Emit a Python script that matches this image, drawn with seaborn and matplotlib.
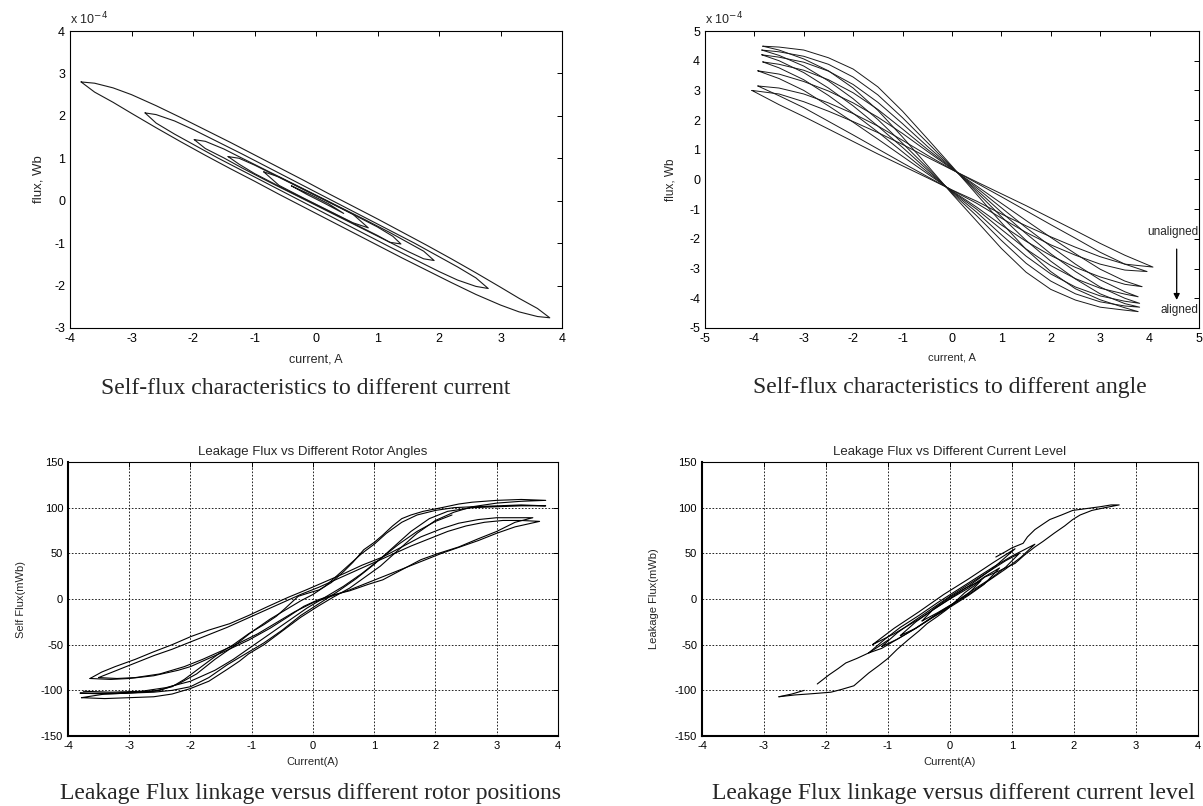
import numpy as np
import pandas as pd
import matplotlib
matplotlib.use("Agg")
import matplotlib.pyplot as plt
from matplotlib.ticker import FuncFormatter
import seaborn as sns

sns.set_theme(style="white")
plt.rcParams['font.family'] = ['Liberation Sans', 'DejaVu Sans']
plt.rcParams['axes.unicode_minus'] = False

FLUX_SCALE = 1e-4  # top panels are in Wb, values typed in units of 1e-4

# ---------------- top-left: self-flux vs different current (units 1e-4 Wb) -------------
tl_loop1 = [(-3.82, 2.80), (-3.6, 2.77), (-3.3, 2.66), (-3.0, 2.50), (-2.6, 2.24), (-2.2, 1.96),
            (-1.8, 1.67), (-1.4, 1.38), (-1.0, 1.08), (-0.6, 0.78), (-0.2, 0.48), (0.2, 0.17),
            (0.6, -0.13), (1.0, -0.43), (1.4, -0.74), (1.8, -1.05), (2.2, -1.37), (2.6, -1.70),
            (3.0, -2.04), (3.3, -2.30), (3.6, -2.54), (3.80, -2.76),
            (3.6, -2.73), (3.3, -2.62), (3.0, -2.46), (2.6, -2.21), (2.2, -1.93), (1.8, -1.64),
            (1.4, -1.35), (1.0, -1.05), (0.6, -0.75), (0.2, -0.45), (-0.2, -0.15), (-0.6, 0.15),
            (-1.0, 0.46), (-1.4, 0.76), (-1.8, 1.07), (-2.2, 1.39), (-2.6, 1.72), (-3.0, 2.06),
            (-3.3, 2.32), (-3.6, 2.56), (-3.82, 2.80)]
tl_loop2 = [(-2.78, 2.07), (-2.6, 2.03), (-2.3, 1.88), (-2.0, 1.68), (-1.6, 1.39), (-1.2, 1.10),
            (-0.8, 0.80), (-0.4, 0.50), (0.0, 0.20), (0.4, -0.10), (0.8, -0.40), (1.2, -0.70),
            (1.6, -1.00), (2.0, -1.32), (2.3, -1.56), (2.6, -1.82), (2.80, -2.07),
            (2.6, -2.02), (2.3, -1.87), (2.0, -1.67), (1.6, -1.38), (1.2, -1.09), (0.8, -0.79),
            (0.4, -0.49), (0.0, -0.19), (-0.4, 0.11), (-0.8, 0.41), (-1.2, 0.71), (-1.6, 1.01),
            (-2.0, 1.33), (-2.3, 1.57), (-2.6, 1.83), (-2.78, 2.07)]
tl_loop3 = [(-1.98, 1.44), (-1.8, 1.40), (-1.5, 1.22), (-1.2, 1.00), (-0.8, 0.71), (-0.4, 0.42),
            (0.0, 0.13), (0.4, -0.16), (0.8, -0.45), (1.2, -0.75), (1.5, -0.99), (1.75, -1.19),
            (1.92, -1.41),
            (1.75, -1.37), (1.5, -1.20), (1.2, -0.98), (0.8, -0.69), (0.4, -0.40), (0.0, -0.11),
            (-0.4, 0.18), (-0.8, 0.47), (-1.2, 0.77), (-1.5, 1.01), (-1.8, 1.23), (-1.98, 1.44)]
tl_loop4 = [(-1.43, 1.04), (-1.25, 1.00), (-1.0, 0.84), (-0.6, 0.55), (-0.2, 0.26), (0.2, -0.03),
            (0.6, -0.32), (1.0, -0.62), (1.25, -0.84), (1.38, -1.02),
            (1.2, -0.98), (1.0, -0.82), (0.6, -0.53), (0.2, -0.24), (-0.2, 0.05), (-0.6, 0.34),
            (-1.0, 0.64), (-1.25, 0.86), (-1.43, 1.04)]
tl_loop5 = [(-0.85, 0.68), (-0.6, 0.56), (-0.2, 0.27), (0.2, -0.02), (0.6, -0.32), (0.85, -0.64),
            (0.6, -0.52), (0.2, -0.23), (-0.2, 0.06), (-0.6, 0.36), (-0.85, 0.68)]
tl_loop6 = [(-0.4, 0.35), (-0.1, 0.15), (0.2, -0.07), (0.45, -0.30),
            (0.15, -0.07), (-0.15, 0.15), (-0.4, 0.35)]

# ---------------- top-right: self-flux vs different angle (units 1e-4 Wb) --------------
tr_grid = [-3.5, -3.0, -2.5, -2.0, -1.5, -1.0, -0.5, 0.0, 0.5, 1.0, 1.5, 2.0, 2.5, 3.0, 3.5]
tr_tip_left = [(-4.05, 3.00), (-3.93, 3.15), (-3.93, 3.66), (-3.83, 3.96), (-3.85, 4.20),
               (-3.85, 4.36), (-3.83, 4.49)]
tr_tip_right = [(4.07, -2.95), (3.95, -3.10), (3.85, -3.61), (3.77, -3.95), (3.80, -4.17),
                (3.80, -4.30), (3.77, -4.45)]
tr_upper_1 = [2.88, 2.62, 2.30, 1.95, 1.58, 1.18, 0.75, 0.33, -0.08, -0.48, -0.88, -1.30, -1.72, -2.15, -2.55]
tr_lower_1 = [2.52, 2.12, 1.70, 1.28, 0.86, 0.46, 0.06, -0.35, -0.73, -1.16, -1.56, -1.93, -2.28, -2.60, -2.85]
tr_upper_2 = [3.08, 2.88, 2.58, 2.22, 1.80, 1.32, 0.82, 0.34, -0.12, -0.58, -1.05, -1.52, -1.98, -2.45, -2.85]
tr_lower_2 = [2.82, 2.42, 1.96, 1.50, 1.03, 0.56, 0.10, -0.36, -0.80, -1.30, -1.78, -2.20, -2.55, -2.85, -3.05]
tr_upper_3 = [3.55, 3.30, 2.98, 2.58, 2.10, 1.55, 0.95, 0.36, -0.22, -0.80, -1.38, -1.95, -2.50, -3.02, -3.42]
tr_lower_3 = [3.40, 3.00, 2.48, 1.93, 1.36, 0.78, 0.20, -0.38, -0.93, -1.53, -2.08, -2.56, -2.96, -3.28, -3.53]
tr_upper_4 = [3.88, 3.68, 3.36, 2.92, 2.36, 1.70, 1.02, 0.38, -0.28, -0.95, -1.62, -2.25, -2.85, -3.38, -3.78]
tr_lower_4 = [3.76, 3.36, 2.83, 2.23, 1.60, 0.93, 0.26, -0.40, -1.00, -1.68, -2.34, -2.90, -3.34, -3.66, -3.86]
tr_upper_5 = [4.12, 3.95, 3.65, 3.20, 2.60, 1.88, 1.12, 0.40, -0.35, -1.10, -1.82, -2.50, -3.10, -3.62, -4.00]
tr_lower_5 = [4.00, 3.60, 3.08, 2.48, 1.80, 1.08, 0.33, -0.42, -1.10, -1.86, -2.58, -3.18, -3.62, -3.92, -4.10]
tr_upper_6 = [4.30, 4.15, 3.88, 3.45, 2.85, 2.08, 1.25, 0.42, -0.42, -1.25, -2.05, -2.75, -3.35, -3.85, -4.18]
tr_lower_6 = [4.18, 3.82, 3.32, 2.72, 2.02, 1.22, 0.40, -0.45, -1.22, -2.05, -2.82, -3.42, -3.85, -4.12, -4.26]
tr_upper_7 = [4.46, 4.36, 4.10, 3.72, 3.12, 2.30, 1.38, 0.45, -0.50, -1.45, -2.35, -3.10, -3.68, -4.05, -4.32]
tr_lower_7 = [4.36, 4.06, 3.66, 3.08, 2.33, 1.43, 0.48, -0.48, -1.40, -2.32, -3.12, -3.70, -4.06, -4.30, -4.40]
tr_uppers = [tr_upper_1, tr_upper_2, tr_upper_3, tr_upper_4, tr_upper_5, tr_upper_6, tr_upper_7]
tr_lowers = [tr_lower_1, tr_lower_2, tr_lower_3, tr_lower_4, tr_lower_5, tr_lower_6, tr_lower_7]

# ---------------- bottom-left: leakage flux vs rotor angle (mWb) ------------------------
bl_loop1 = [(-3.78, -108), (-3.4, -109), (-3.0, -108), (-2.6, -107), (-2.3, -104), (-2.0, -98),
            (-1.7, -90), (-1.4, -77), (-1.2, -68), (-1.05, -60), (-0.8, -50), (-0.6, -40),
            (-0.42, -31), (-0.2, -20), (0.08, -8), (0.33, 2), (0.6, 12), (0.85, 24), (1.1, 36),
            (1.4, 54), (1.7, 72), (2.0, 86), (2.3, 95), (2.6, 101), (3.0, 105), (3.4, 107),
            (3.8, 108),
            (3.4, 109), (3.0, 108), (2.6, 106), (2.38, 104), (2.1, 100), (1.8, 96), (1.6, 92),
            (1.45, 88), (1.3, 80), (1.14, 70), (1.0, 62), (0.83, 54), (0.65, 40), (0.5, 30),
            (0.3, 18), (0.1, 10), (-0.1, 6), (-0.24, 3), (-0.45, -10), (-0.6, -19), (-0.8, -28),
            (-1.05, -38), (-1.3, -50), (-1.5, -58), (-1.68, -67), (-1.9, -78), (-2.1, -88),
            (-2.3, -96), (-2.6, -101), (-3.0, -103), (-3.4, -104), (-3.78, -108)]
bl_loop2 = [(-3.8, -103), (-3.4, -104), (-3.0, -103), (-2.6, -102), (-2.3, -100), (-2.0, -96),
            (-1.7, -86), (-1.4, -72), (-1.1, -60), (-0.8, -48), (-0.5, -34), (-0.2, -18),
            (0.1, -5), (0.4, 8), (0.7, 22), (1.0, 38), (1.3, 56), (1.6, 74), (1.9, 88),
            (2.2, 96), (2.6, 100), (3.0, 101), (3.4, 102), (3.8, 102),
            (3.4, 103), (3.0, 102), (2.6, 101), (2.3, 100), (2.0, 97), (1.7, 92), (1.45, 84),
            (1.2, 72), (1.0, 60), (0.8, 50), (0.6, 38), (0.4, 26), (0.2, 14), (0.0, 5),
            (-0.2, -2), (-0.4, -10), (-0.7, -22), (-1.0, -36), (-1.3, -52), (-1.6, -66),
            (-1.9, -82), (-2.2, -93), (-2.5, -100), (-2.9, -102), (-3.3, -103), (-3.8, -103)]
bl_loop3 = [(-3.64, -87), (-3.3, -88), (-3.0, -87), (-2.6, -84), (-2.2, -78), (-2.0, -74),
            (-1.7, -65), (-1.4, -56), (-1.05, -45), (-0.7, -32), (-0.42, -20), (-0.15, -8),
            (0.08, -1), (0.3, 4), (0.6, 9), (0.9, 16), (1.14, 21), (1.45, 32), (1.76, 43),
            (2.05, 50), (2.38, 57), (2.7, 66), (3.0, 74), (3.3, 84), (3.59, 89),
            (3.3, 89), (3.0, 89), (2.7, 87), (2.38, 83), (2.1, 77), (1.76, 68), (1.45, 57),
            (1.14, 46), (0.8, 37), (0.51, 28), (0.2, 19), (-0.11, 10), (-0.4, 2), (-0.73, -8),
            (-1.05, -18), (-1.36, -27), (-1.7, -34), (-1.99, -41), (-2.3, -50), (-2.61, -58),
            (-2.9, -66), (-3.23, -74), (-3.45, -80), (-3.64, -87)]
bl_loop4 = [(-3.5, -86), (-3.2, -87), (-2.9, -86), (-2.5, -82), (-2.1, -74), (-1.8, -66),
            (-1.5, -57), (-1.2, -48), (-0.9, -38), (-0.6, -26), (-0.3, -14), (0.0, -4),
            (0.3, 3), (0.6, 10), (0.9, 18), (1.2, 26), (1.5, 34), (1.8, 42), (2.1, 50),
            (2.4, 57), (2.7, 64), (3.0, 72), (3.3, 79), (3.7, 85),
            (3.4, 86), (3.1, 86), (2.8, 84), (2.5, 80), (2.2, 74), (1.9, 66), (1.6, 58),
            (1.3, 49), (1.0, 40), (0.7, 31), (0.4, 22), (0.1, 13), (-0.2, 5), (-0.5, -4),
            (-0.8, -13), (-1.1, -22), (-1.4, -31), (-1.7, -39), (-2.0, -47), (-2.3, -55),
            (-2.6, -62), (-2.9, -70), (-3.2, -78), (-3.5, -86)]
bl_trace5 = [(-3.75, -101), (-3.3, -102), (-2.8, -101), (-2.4, -97), (-2.0, -90), (-1.6, -78),
             (-1.3, -66), (-1.0, -52), (-0.7, -38), (-0.4, -24), (-0.1, -10), (0.2, 2),
             (0.5, 14), (0.8, 28), (1.1, 44), (1.4, 60), (1.7, 74), (2.0, 85), (2.27, 92)]

# ---------------- bottom-right: leakage flux vs current level (mWb) ---------------------
br_big_up = [(-2.76, -107), (-2.5, -105), (-2.29, -104), (-2.1, -103), (-1.92, -102),
             (-1.75, -99), (-1.55, -95), (-1.43, -88), (-1.31, -81), (-1.15, -73), (-1.0, -65),
             (-0.85, -55), (-0.68, -45), (-0.5, -35), (-0.37, -27), (-0.2, -19), (-0.06, -12),
             (0.1, -2), (0.24, 7), (0.4, 15), (0.56, 24), (0.8, 31), (1.05, 39), (1.2, 48),
             (1.37, 57), (1.5, 63), (1.68, 72), (1.85, 80), (1.98, 87), (2.1, 92), (2.29, 97),
             (2.5, 100), (2.73, 103),
             (2.6, 103), (2.42, 101), (2.2, 99), (1.98, 97), (1.8, 92), (1.61, 87), (1.5, 82),
             (1.37, 76), (1.25, 68), (1.18, 61), (1.0, 56), (0.9, 52), (0.74, 46)]
br_big_tail = [(-2.14, -93), (-1.95, -83), (-1.8, -76), (-1.68, -70), (-1.5, -65), (-1.31, -59),
               (-1.15, -52), (-1.0, -45)]
br_tip_tail = [(-2.76, -107), (-2.55, -104), (-2.35, -100)]
br_inner1 = [(-1.31, -59), (-1.1, -54), (-0.9, -46), (-0.6, -34), (-0.3, -21), (0.0, -8),
             (0.3, 5), (0.6, 19), (0.9, 33), (1.15, 46), (1.37, 60),
             (1.2, 54), (1.0, 47), (0.7, 35), (0.4, 22), (0.1, 9), (-0.2, -4), (-0.5, -18),
             (-0.8, -31), (-1.05, -44), (-1.31, -59)]
br_inner2 = [(-1.1, -52), (-0.85, -44), (-0.55, -32), (-0.25, -18), (0.05, -5), (0.35, 9),
             (0.65, 22), (0.9, 35), (1.12, 50),
             (0.9, 42), (0.6, 29), (0.3, 16), (0.0, 3), (-0.3, -11), (-0.6, -25), (-0.85, -37),
             (-1.1, -52)]
br_inner3 = [(-0.8, -40), (-0.55, -32), (-0.3, -21), (0.0, -9), (0.3, 4), (0.55, 16), (0.8, 34),
             (0.55, 24), (0.3, 12), (0.0, 0), (-0.3, -13), (-0.55, -25), (-0.8, -40)]
br_inner4 = [(-0.45, -24), (-0.2, -15), (0.05, -5), (0.3, 6), (0.5, 20),
             (0.25, 12), (0.0, 2), (-0.25, -10), (-0.45, -24)]
br_inner5 = [(-1.25, -50), (-0.9, -38), (-0.5, -22), (-0.1, -4), (0.3, 14), (0.7, 34), (1.05, 55),
             (0.7, 40), (0.3, 22), (-0.1, 5), (-0.5, -14), (-0.9, -32), (-1.25, -50)]

titles = ["Leakage Flux vs Different Rotor Angles", "Leakage Flux vs Different Current Level"]
captions = ["Self-flux characteristics to different current",
            "Self-flux characteristics to different angle",
            "Leakage Flux linkage versus different rotor positions",
            "Leakage Flux linkage versus different current level"]


def loops_frame(loops, scale=1.0):
    rows = []
    for k, pts in enumerate(loops):
        for j, (c, f) in enumerate(pts):
            rows.append((k, j, c, f * scale))
    return pd.DataFrame(rows, columns=["loop", "order", "current", "flux"])


tr_loops = []
for k in range(len(tr_uppers)):
    pts = [tr_tip_left[k]] + list(zip(tr_grid, tr_uppers[k])) + [tr_tip_right[k]]
    pts += list(zip(tr_grid[::-1], tr_lowers[k][::-1])) + [tr_tip_left[k]]
    tr_loops.append(pts)

df_tl = loops_frame([tl_loop1, tl_loop2, tl_loop3, tl_loop4, tl_loop5, tl_loop6], FLUX_SCALE)
df_tr = loops_frame(tr_loops, FLUX_SCALE)
df_bl = loops_frame([bl_loop1, bl_loop2, bl_loop3, bl_loop4, bl_trace5])
df_br = loops_frame([br_big_up, br_big_tail, br_tip_tail, br_inner1, br_inner2, br_inner3,
                     br_inner4, br_inner5])

fig = plt.figure(figsize=(12.03, 8.06), dpi=100)
ax_tl = fig.add_axes([0.0582, 0.5931, 0.4090, 0.3684])
ax_tr = fig.add_axes([0.5860, 0.5931, 0.4106, 0.3684])
ax_bl = fig.add_axes([0.0565, 0.0868, 0.4073, 0.3400])
ax_br = fig.add_axes([0.5835, 0.0868, 0.4123, 0.3400])

line_kw = dict(x="current", y="flux", units="loop", estimator=None, sort=False,
               legend=False)
sns.lineplot(data=df_tl, ax=ax_tl, color="#1a1a1a", lw=0.8, **line_kw)
sns.lineplot(data=df_tr, ax=ax_tr, color="#1a1a1a", lw=0.7, **line_kw)
sns.lineplot(data=df_bl, ax=ax_bl, color="black", lw=0.8, **line_kw)
sns.lineplot(data=df_br, ax=ax_br, color="black", lw=0.8, **line_kw)

for ax in (ax_tl, ax_tr, ax_bl, ax_br):
    for s in ax.spines.values():
        s.set_visible(True)
        s.set_color("black")
        s.set_linewidth(0.8)
    ax.tick_params(direction="in", length=3.5, width=0.7, top=True, right=True,
                   colors="black", pad=3.5)

flux_fmt = FuncFormatter(lambda v, p: "%d" % int(round(v / FLUX_SCALE)))

# top-left
ax_tl.set_xlim(-4, 4)
ax_tl.set_ylim(-3e-4, 4e-4)
ax_tl.set_xticks(np.arange(-4, 5, 1))
ax_tl.set_yticks(np.arange(-3, 5, 1) * FLUX_SCALE)
ax_tl.yaxis.set_major_formatter(flux_fmt)
ax_tl.tick_params(labelsize=9)
ax_tl.text(0.0, 1.012, r"x 10$^{-4}$", transform=ax_tl.transAxes, ha="left", va="bottom",
           fontsize=9)
ax_tl.set_xlabel("current, A", fontsize=9)
ax_tl.set_ylabel("flux, Wb", fontsize=9.5)
ax_tl.xaxis.set_label_coords(0.5, -0.0875)
ax_tl.yaxis.set_label_coords(-0.052, 0.5)

# top-right
ax_tr.set_xlim(-5, 5)
ax_tr.set_ylim(-5e-4, 5e-4)
ax_tr.set_xticks(np.arange(-5, 6, 1))
ax_tr.set_yticks(np.arange(-5, 6, 1) * FLUX_SCALE)
ax_tr.yaxis.set_major_formatter(flux_fmt)
ax_tr.tick_params(labelsize=9)
ax_tr.text(0.0, 1.012, r"x 10$^{-4}$", transform=ax_tr.transAxes, ha="left", va="bottom",
           fontsize=9)
ax_tr.set_xlabel("current, A", fontsize=8)
ax_tr.set_ylabel("flux, Wb", fontsize=8.5)
ax_tr.xaxis.set_label_coords(0.5, -0.081)
ax_tr.yaxis.set_label_coords(-0.057, 0.5)
ax_tr.text(4.98, -1.77e-4, "unaligned", ha="right", va="center", fontsize=8.5)
ax_tr.text(4.98, -4.39e-4, "aligned", ha="right", va="center", fontsize=8.5)
ax_tr.annotate("", xy=(4.55, -4.15e-4), xytext=(4.55, -2.25e-4),
               arrowprops=dict(arrowstyle="-|>", color="black", lw=0.9, mutation_scale=9))

# bottom panels
for ax, title, ylab in ((ax_bl, titles[0], "Self Flux(mWb)"),
                        (ax_br, titles[1], "Leakage Flux(mWb)")):
    ax.set_xlim(-4, 4)
    ax.set_ylim(-150, 150)
    ax.set_xticks(np.arange(-4, 5, 1))
    ax.set_yticks(np.arange(-150, 151, 50))
    ax.grid(True, color="black", linestyle=(0, (2, 2)), linewidth=0.6)
    ax.tick_params(labelsize=8)
    ax.set_title(title, fontsize=9.5, pad=5)
    ax.set_xlabel("Current(A)", fontsize=8)
    ax.set_ylabel(ylab, fontsize=8)
    ax.xaxis.set_label_coords(0.5, -0.077)
    ax.spines["left"].set_linewidth(1.5)
    ax.spines["bottom"].set_linewidth(1.5)
ax_bl.yaxis.set_label_coords(-0.086, 0.5)
ax_br.yaxis.set_label_coords(-0.087, 0.5)

cap_kw = dict(ha="center", va="center", fontsize=17, family="Liberation Serif")
fig.text(306 / 1203, 1 - 388 / 806, captions[0], **cap_kw)
fig.text(950 / 1203, 1 - 388 / 806, captions[1], **cap_kw)
fig.text(311 / 1203, 1 - 793 / 806, captions[2], **cap_kw)
fig.text(954 / 1203, 1 - 793 / 806, captions[3], **cap_kw)

fig.savefig("out.png", dpi=100, facecolor="white")
